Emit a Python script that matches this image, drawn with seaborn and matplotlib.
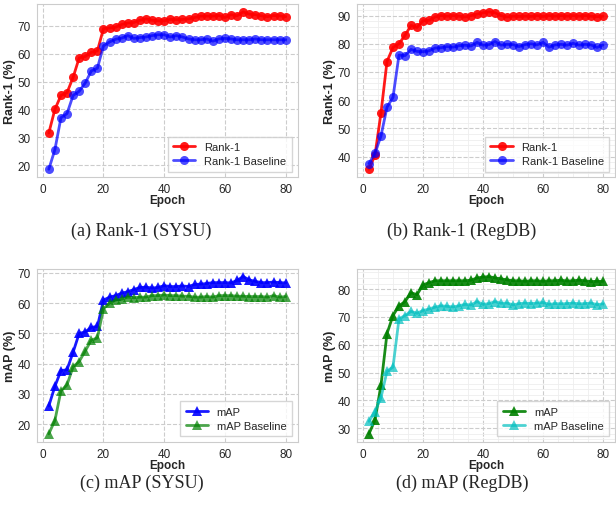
import numpy as np
import pandas as pd
import seaborn as sns
import matplotlib.pyplot as plt
from matplotlib.ticker import AutoMinorLocator, MultipleLocator

epochs = list(range(2, 82, 2))

# (a) Rank-1 on SYSU
sysu_rank1 = [31.5, 40, 45, 46, 51.5, 58.5, 59, 60.5, 61, 69, 69.2, 69.5, 70.5, 71, 71.2, 72, 72.5, 72, 71.8, 71.8,
              72.3, 72.2, 72.3, 72.5, 73, 73.5, 73.5, 73.5, 73.7, 73, 74, 73.6, 75, 74.2, 74, 73.6, 73.3, 73.7, 73.6, 73.3]
sysu_rank1_base = [18.5, 25.5, 37, 38.5, 45, 46.5, 49.5, 53.8, 54.8, 62.8, 64.2, 65.2, 65.6, 66.5, 65.5, 65.8, 66, 66.5, 66.8, 66.8,
                   66, 66.5, 66, 65.3, 65, 65, 65.3, 64.5, 65.3, 65.5, 65.3, 65, 65, 65, 65.3, 65, 65, 65, 65, 65]

# (b) Rank-1 on RegDB
regdb_rank1 = [35.5, 40.5, 55.5, 73.7, 78.7, 80, 83, 86.5, 85.8, 88.2, 88.3, 89.5, 90, 89.8, 90, 89.8, 89.5, 90, 90.5, 91,
               91.3, 91, 90, 89.5, 89.8, 89.7, 89.8, 89.7, 90, 89.7, 90, 89.8, 90, 89.8, 90, 89.8, 90, 89.8, 89.6, 89.8]
regdb_rank1_base = [37.5, 41.2, 47.3, 57.5, 61, 76, 75.8, 78, 77.3, 77.2, 77.5, 78.5, 78.6, 79, 78.8, 79.3, 79.5, 79.2, 80.5, 79.5,
                    79.7, 80.8, 79.5, 79.8, 79.7, 79, 79.7, 80, 79.6, 80.5, 78.8, 79.6, 79.8, 79.5, 80.2, 79.5, 79.8, 79.6, 78.7, 79.6]

# (c) mAP on SYSU
sysu_map = [26, 32.5, 37.7, 38, 43.8, 50, 50.5, 52, 52.3, 61, 62, 62.5, 63.3, 63.8, 64.5, 65.2, 65.3, 65, 65.2, 65.8,
            65.5, 65.5, 65.7, 65.5, 66.2, 66.3, 66.5, 66.8, 66.8, 66.8, 66.7, 67.5, 68.8, 67.7, 67.2, 66.8, 66.8, 67, 66.8, 66.7]
sysu_map_base = [16.8, 21.2, 31, 33, 39, 40.7, 44.2, 47.8, 48.5, 58.2, 60, 61, 61.3, 62, 61.8, 62, 62, 62.5, 62.5, 62.7,
                 62.5, 62.5, 62.3, 62.3, 62, 62, 62.2, 62, 62.5, 62.5, 62.5, 62.3, 62.3, 62.2, 62.2, 62.2, 62, 62.5, 62, 62.2]

# (d) mAP on RegDB
regdb_map = [28, 33, 45.5, 64, 70.5, 74, 75.5, 78.7, 78, 81.5, 82.3, 83, 83, 83, 83, 83, 83, 83.2, 84, 84.3,
             84.5, 84, 83.7, 83.3, 83, 83, 82.8, 83, 83, 82.8, 83, 83, 83.2, 82.9, 83, 83.2, 83, 82.7, 82.8, 82.8]
regdb_map_base = [32.5, 36, 41, 50.5, 52, 69.3, 70.5, 72, 71.3, 72.3, 72.8, 73.5, 74, 73.8, 73.6, 74, 74.5, 74.3, 75.5, 74.5,
                  74.8, 75.5, 74.9, 75, 74.3, 74.8, 75, 74.8, 75, 75.2, 74.5, 74.8, 74.7, 74.8, 75, 74.7, 74.8, 75, 74.4, 74.7]

sns.set_style("whitegrid", {"grid.linestyle": "--", "axes.edgecolor": ".8"})
plt.rcParams["font.family"] = ["Liberation Sans", "DejaVu Sans"]

fig = plt.figure(figsize=(6.16, 5.06), dpi=100)

panels = [
    # rect, main, base, names, colors, marker, ylabel, caption, caption pos, minor grid
    ([0.060, 0.648, 0.423, 0.342], sysu_rank1, sysu_rank1_base, ["Rank-1", "Rank-1 Baseline"],
     ["red", "blue"], "o", "Rank-1 (%)", "(a) Rank-1 (SYSU)", (0.23, 0.542), False),
    ([0.580, 0.648, 0.418, 0.342], regdb_rank1, regdb_rank1_base, ["Rank-1", "Rank-1 Baseline"],
     ["red", "blue"], "o", "Rank-1 (%)", "(b) Rank-1 (RegDB)", (0.75, 0.542), True),
    ([0.060, 0.125, 0.423, 0.342], sysu_map, sysu_map_base, ["mAP", "mAP Baseline"],
     ["blue", "green"], "^", "mAP (%)", "(c) mAP (SYSU)", (0.23, 0.045), False),
    ([0.580, 0.125, 0.418, 0.342], regdb_map, regdb_map_base, ["mAP", "mAP Baseline"],
     ["green", "c"], "^", "mAP (%)", "(d) mAP (RegDB)", (0.75, 0.045), True),
]

for rect, main, base, names, colors, marker, ylabel, caption, cpos, minor in panels:
    ax = fig.add_axes(rect)
    df = pd.DataFrame({"Epoch": epochs * 2,
                       "val": main + base,
                       "series": [names[0]] * len(epochs) + [names[1]] * len(epochs)})
    for name, color, alpha in zip(names, colors, [0.9, 0.7]):
        sub = df[df["series"] == name]
        sns.lineplot(data=sub, x="Epoch", y="val", ax=ax, color=color, alpha=alpha,
                     marker=marker, markersize=6.5, markeredgewidth=0, linewidth=2, label=name)
    ax.set_xticks([0, 20, 40, 60, 80])
    ax.yaxis.set_major_locator(MultipleLocator(10))
    ax.set_xlabel("Epoch", fontsize=8.5, fontweight="bold", labelpad=-1)
    ax.set_ylabel(ylabel, fontsize=9, fontweight="bold", labelpad=1)
    ax.tick_params(labelsize=8.5, pad=1)
    ax.grid(True, which="major", linestyle="--", color="#cccccc", linewidth=0.8)
    if minor:
        ax.xaxis.set_minor_locator(AutoMinorLocator(4))
        ax.yaxis.set_minor_locator(AutoMinorLocator(5))
        ax.grid(True, which="minor", linestyle="-", color="#eeeeee", linewidth=0.6)
        ax.tick_params(which="minor", length=0)
    ax.legend(loc="lower right", fontsize=8, frameon=True, fancybox=False,
              handlelength=2.0, borderpad=0.5, labelspacing=0.35)
    fig.text(cpos[0], cpos[1], caption, ha="center", va="center",
             fontsize=13, family=["Liberation Serif", "DejaVu Serif"])

fig.savefig("out.png", dpi=100)
